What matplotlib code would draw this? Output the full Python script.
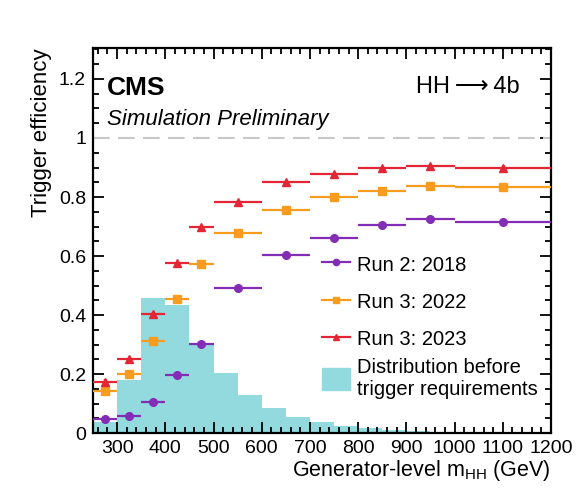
import numpy as np
import matplotlib
matplotlib.use("Agg")
import matplotlib.pyplot as plt
from matplotlib.lines import Line2D
from matplotlib.patches import Patch
from matplotlib.ticker import MultipleLocator

plt.rcParams["font.family"] = ["Liberation Sans", "DejaVu Sans"]
plt.rcParams["mathtext.fontset"] = "custom"
plt.rcParams["mathtext.rm"] = "Liberation Sans"
plt.rcParams["mathtext.it"] = "Liberation Sans:italic"

# Distribution before trigger requirements (50 GeV bins)
hist_edges = np.arange(250, 1201, 50)
hist_vals = [0.038, 0.180, 0.459, 0.434, 0.306, 0.204, 0.129, 0.086, 0.055,
             0.038, 0.024, 0.016, 0.010, 0.006, 0.004, 0.003, 0.002, 0.0015, 0.001]

# Efficiency bins
eff_edges = np.array([250, 300, 350, 400, 450, 500, 600, 700, 800, 900, 1000, 1200])
eff_2018 = [0.047, 0.058, 0.104, 0.196, 0.303, 0.493, 0.603, 0.660, 0.705, 0.725, 0.714]
eff_2022 = [0.142, 0.200, 0.313, 0.454, 0.574, 0.678, 0.756, 0.799, 0.821, 0.838, 0.834]
eff_2023 = [0.172, 0.250, 0.403, 0.576, 0.698, 0.783, 0.850, 0.878, 0.897, 0.906, 0.899]
eff_err = [0.012, 0.008, 0.006, 0.005, 0.005, 0.004, 0.004, 0.005, 0.006, 0.007, 0.008]

series = [
    ("Run 2: 2018", eff_2018, "#832db6", "o", 5.5),
    ("Run 3: 2022", eff_2022, "#f89c20", "s", 5.5),
    ("Run 3: 2023", eff_2023, "#e42536", "^", 5.5),
]

fig = plt.figure(figsize=(5.8, 4.9), dpi=100)
ax = fig.add_axes([0.1603, 0.1163, 0.7897, 0.7857])

hist_color = "#92dadd"
ax.stairs(hist_vals, hist_edges, fill=True, color=hist_color, zorder=1)

# Reference line at 100 %
ax.axhline(1.0, color="#c8c8c8", lw=1.5, dashes=(8, 4), zorder=2)

centers = 0.5 * (eff_edges[:-1] + eff_edges[1:])
half_w = 0.5 * np.diff(eff_edges)
for label, vals, col, mk, ms in series:
    ax.errorbar(centers, vals, xerr=half_w, yerr=eff_err, fmt=mk, color=col,
                ms=ms, elinewidth=1.6, capsize=0, zorder=3)

ax.set_xlim(250, 1200)
ax.set_ylim(0, 1.305)

ax.xaxis.set_major_locator(MultipleLocator(100))
ax.xaxis.set_minor_locator(MultipleLocator(20))
ax.yaxis.set_major_locator(MultipleLocator(0.2))
ax.yaxis.set_minor_locator(MultipleLocator(0.05))
ax.set_xticks(np.arange(300, 1201, 100))
ax.set_yticks([0, 0.2, 0.4, 0.6, 0.8, 1.0, 1.2])
ax.set_yticklabels(["0", "0.2", "0.4", "0.6", "0.8", "1", "1.2"])

ax.tick_params(which="both", direction="in", top=True, right=True,
               labelsize=14, width=1.3, pad=5)
ax.tick_params(which="major", length=8)
ax.tick_params(which="minor", length=4)
for sp in ax.spines.values():
    sp.set_linewidth(1.6)

ax.set_xlabel(r"Generator-level m$_{\mathrm{HH}}$ (GeV)", fontsize=15.5, loc="right", labelpad=1)
ax.set_ylabel("Trigger efficiency", fontsize=16, loc="top", labelpad=5)

ax.text(0.03, 0.895, "CMS", transform=ax.transAxes, fontsize=19,
        fontweight="bold", va="center", ha="left")
ax.text(0.03, 0.815, "Simulation Preliminary", transform=ax.transAxes,
        fontsize=16, style="italic", va="center", ha="left")
ax.text(0.932, 0.898, "HH\u2009\u27f6\u20094b", transform=ax.transAxes,
        fontsize=17, va="center", ha="right",
        family=["Liberation Sans", "DejaVu Sans"])

# Legend for the efficiency curves
handles = [Line2D([], [], color=col, marker=mk, ms=ms - 1, lw=1.6)
           for _, _, col, mk, ms in series]
leg1 = ax.legend(handles, [s[0] for s in series], loc="upper left",
                 bbox_to_anchor=(0.499, 0.466), frameon=False, fontsize=14.5,
                 handlelength=1.4, handleheight=1.3, handletextpad=0.35,
                 labelspacing=0.75, borderpad=0, borderaxespad=0)
ax.add_artist(leg1)

# Separate entry for the histogram
ax.legend([Patch(color=hist_color)], ["Distribution before\ntrigger requirements"],
          loc="upper left", bbox_to_anchor=(0.499, 0.196), frameon=False,
          fontsize=14.5, handlelength=1.4, handleheight=1.35, handletextpad=0.35,
          borderpad=0, borderaxespad=0)

fig.savefig("out.png", dpi=100)
